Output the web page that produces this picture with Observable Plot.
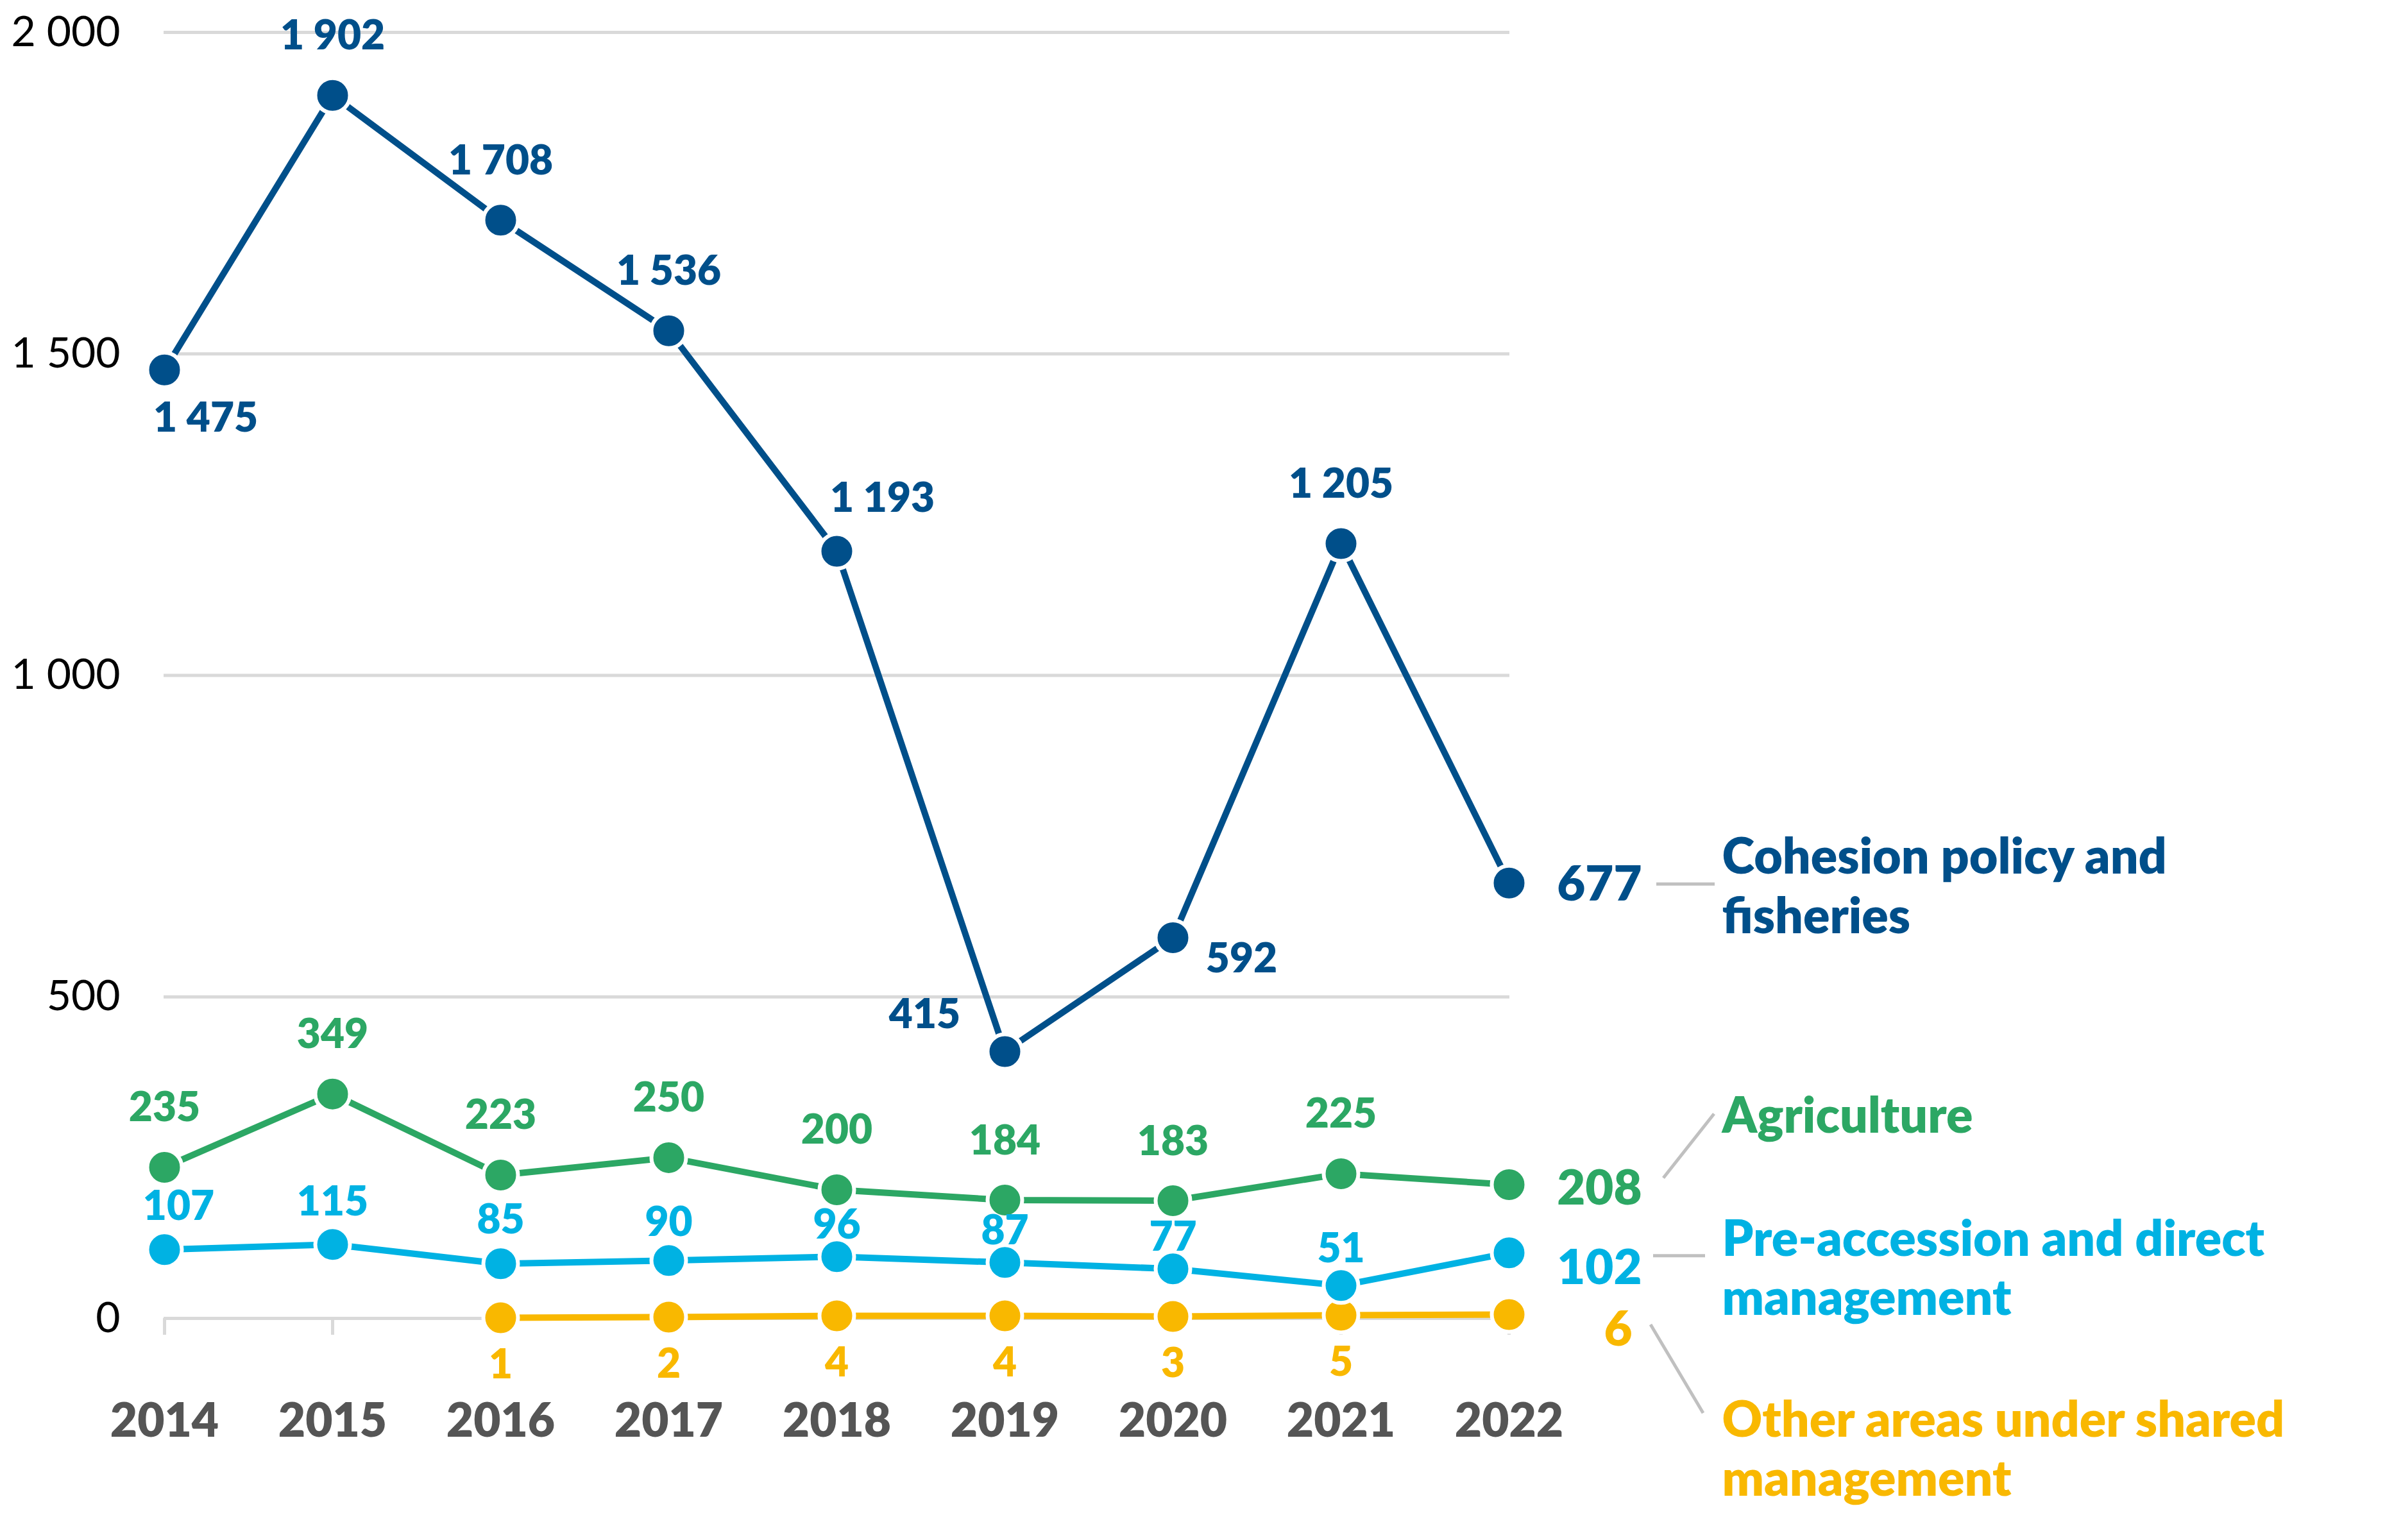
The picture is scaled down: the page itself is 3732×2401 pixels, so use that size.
<!DOCTYPE html>
<html>
<head>
<meta charset="utf-8">
<script src="https://cdn.jsdelivr.net/npm/d3@7"></script>
<script src="https://cdn.jsdelivr.net/npm/@observablehq/plot@0.6"></script>
<style>
  html, body { margin: 0; padding: 0; background: #fff; }
  #chart svg { display: block; max-width: none; }
</style>
</head>
<body>
<div id="chart"></div>
<script>
// ---- data ----
const years = [2014, 2015, 2016, 2017, 2018, 2019, 2020, 2021, 2022];
const cohesion = [1475, 1902, 1708, 1536, 1193, 415, 592, 1205, 677];
const agriculture = [235, 349, 223, 250, 200, 184, 183, 225, 208];
const preAccession = [107, 115, 85, 90, 96, 87, 77, 51, 102];
const otherShared = [null, null, 1, 2, 4, 4, 3, 5, 6];
const seriesNames = [
  "Cohesion policy and\nfisheries",
  "Agriculture",
  "Pre-accession and direct\nmanagement",
  "Other areas under shared\nmanagement"
];
const yTicks = [0, 500, 1000, 1500, 2000];

// ---- styling / layout (not data) ----
const colors = ["#004f8a", "#2ca764", "#00b2e3", "#f9b800"];
const grid = "#d9d9d9";
const connector = "#c0c0c0";
const font = "Lato, 'Noto Sans', sans-serif";
const bold = 800;
// per-point label nudges [dx, dy] in px (middle line anchor)
const nudges = [
  [[64, 76], [0, -92], [0, -92], [0, -92], [71, -82], [-125, -57], [107, 33], [0, -92]],
  [[0, -92], [0, -92], [0, -92], [0, -92], [0, -92], [0, -92], [0, -92], [0, -92]],
  [[22, -67], [0, -66], [0, -68], [0, -59], [0, -49], [0, -49], [0, -49], [0, -57]],
  [null, null, [0, 74], [0, 74], [0, 74], [0, 74], [0, 74], [0, 74]]
];
const endLabel = [[207, 3], [207, 7], [207, 24], [192, 24]];
const nameDy = [-80, -147, -61, 125];
const connectors = [
  [[230, 2], [321, 2]],
  [[241, -10], [320, -110]],
  [[225, 5], [306, 5]],
  [[221, 16], [303, 154]]
];

const fmt = d3.formatLocale({decimal: ".", thousands: " ", grouping: [3], currency: ["", ""]}).format(",d");

const seriesValues = [cohesion, agriculture, preAccession, otherShared];
const series = seriesValues.map((vals, s) =>
  years.map((year, i) => ({year, value: vals[i], s, i})).filter(d => d.value != null)
);

const marks = [
  Plot.gridY(yTicks, {stroke: grid, strokeWidth: 5, strokeOpacity: 1}),
  Plot.axisY(yTicks, {tickSize: 0, tickPadding: 68, tickFormat: fmt, fontSize: 66, fill: "#000", label: null}),
  Plot.axisX({tickSize: 26, tickPadding: 107, stroke: grid, strokeWidth: 5, strokeOpacity: 1,
              fill: "#555555", fontSize: 73, fontWeight: bold, tickFormat: d => String(d), label: null})
];

// draw order: yellow, cyan, green, blue
for (const s of [3, 2, 1, 0]) {
  const rows = series[s];
  marks.push(Plot.line(rows, {x: "year", y: "value", stroke: colors[s], strokeWidth: 10}));
  marks.push(Plot.dot(rows, {x: "year", y: "value", r: 27, fill: colors[s], stroke: "white", strokeWidth: 6}));
}

// point labels
for (let s = 0; s < 4; s++) {
  for (const d of series[s]) {
    if (d.i === years.length - 1) continue;
    const n = nudges[s][d.i];
    if (!n) continue;
    marks.push(Plot.text([d], {x: "year", y: "value", text: d => fmt(d.value),
      dx: n[0], dy: n[1], fill: colors[s], fontSize: 64, fontWeight: bold, lineAnchor: "middle"}));
  }
  const last = series[s][series[s].length - 1];
  marks.push(Plot.text([last], {x: "year", y: "value", text: d => fmt(d.value),
    dx: endLabel[s][0], dy: endLabel[s][1], textAnchor: "end", fill: colors[s],
    fontSize: 76, fontWeight: bold, lineAnchor: "middle"}));
  marks.push(Plot.text([last], {x: "year", y: "value", text: () => seriesNames[s],
    dx: 332, dy: nameDy[s], textAnchor: "start", lineAnchor: "top", lineHeight: 1.2,
    fill: colors[s], fontSize: 77, fontWeight: bold}));
}

const chart = Plot.plot({
  width: 3732,
  height: 2401,
  marginTop: 50,
  marginBottom: 346,
  marginLeft: 255,
  marginRight: 1379,
  style: {fontFamily: font, background: "white", overflow: "visible"},
  x: {type: "point", domain: years, padding: 0, axis: null},
  y: {domain: [0, 2000], axis: null},
  marks
});

// connector lines from the last point of each series to its name
const sx = chart.scale("x"), sy = chart.scale("y");
const g = d3.select(chart).append("g").attr("stroke", connector).attr("stroke-width", 5);
for (let s = 0; s < 4; s++) {
  const last = series[s][series[s].length - 1];
  const x0 = sx.apply(last.year), y0 = sy.apply(last.value);
  const [[a, b], [c, e]] = connectors[s];
  g.append("line").attr("x1", x0 + a).attr("y1", y0 + b).attr("x2", x0 + c).attr("y2", y0 + e);
}

document.getElementById("chart").appendChild(chart);
</script>
</body>
</html>
